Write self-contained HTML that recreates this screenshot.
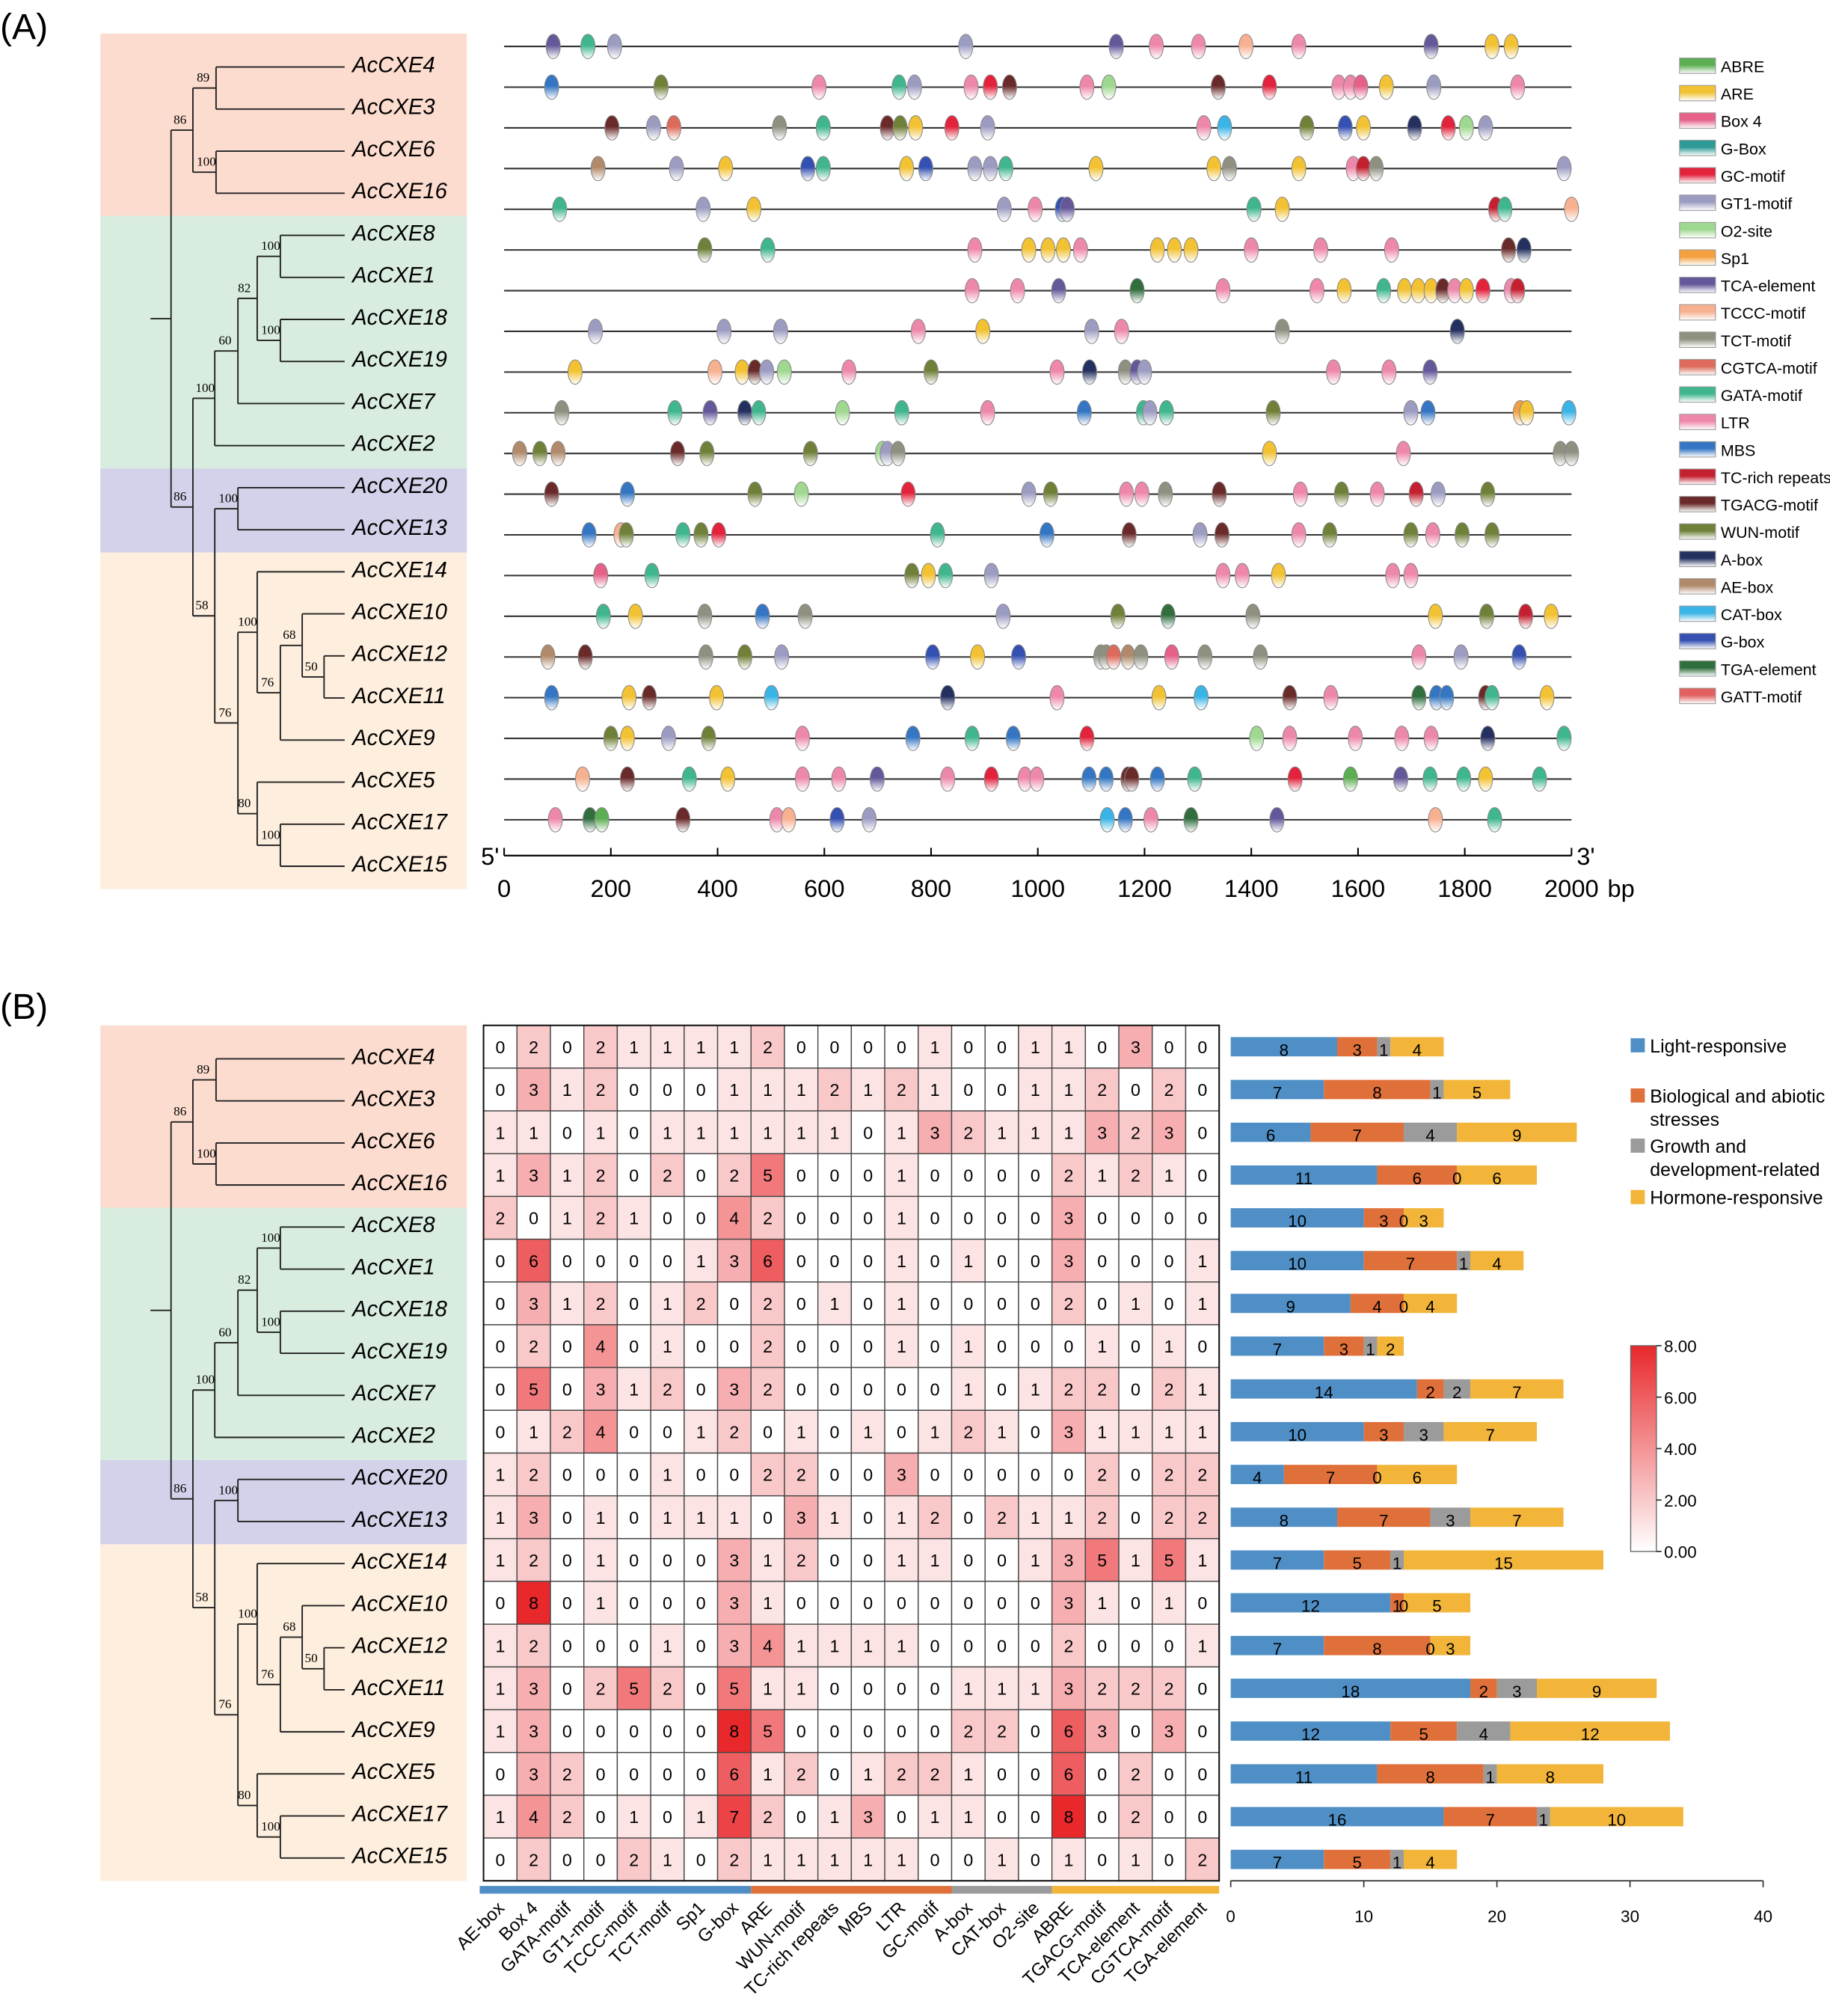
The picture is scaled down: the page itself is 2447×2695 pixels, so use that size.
<!DOCTYPE html>
<html><head><meta charset="utf-8"><style>
html,body{margin:0;padding:0;background:#fff}
svg{display:block;font-family:"Liberation Sans",sans-serif}
</style></head><body>
<svg id="fig" xmlns="http://www.w3.org/2000/svg" width="2447" height="2695" viewBox="0 0 1423 1567">
<defs id="defs"></defs>
<text x="0" y="30" font-size="28">(A)</text>
<text x="0" y="792" font-size="28">(B)</text>
<g id="gA"></g>
<g id="gB"></g>
</svg>
<script>
const genes=["AcCXE4","AcCXE3","AcCXE6","AcCXE16","AcCXE8","AcCXE1","AcCXE18","AcCXE19","AcCXE7","AcCXE2","AcCXE20","AcCXE13","AcCXE14","AcCXE10","AcCXE12","AcCXE11","AcCXE9","AcCXE5","AcCXE17","AcCXE15"];
const motifNames=["ABRE","ARE","Box 4","G-Box","GC-motif","GT1-motif","O2-site","Sp1","TCA-element","TCCC-motif","TCT-motif","CGTCA-motif","GATA-motif","LTR","MBS","TC-rich repeats","TGACG-motif","WUN-motif","A-box","AE-box","CAT-box","G-box","TGA-element","GATT-motif"];
const motifColors=["#5cae52","#f2c233","#e66088","#2e9a96","#e3223c","#9c9cc2","#9fd890","#f5a040","#64579a","#f7b090","#8f9080","#dd6a5a","#3fb68e","#ee88aa","#3476c4","#c42030","#6a2a2a","#6f8038","#243060","#b08a6a","#3ab4e6","#3450b2","#306e3e","#e26060"];
// motif positions (bp) and types per sequence
const motifPos=[
[92,157,207,865,1147,1222,1301,1390,1489,1737,1851,1887],
[89,294,590,740,769,875,911,947,1092,1133,1338,1434,1564,1586,1605,1653,1742,1899],
[202,280,318,516,598,718,742,771,839,906,1311,1350,1504,1576,1610,1706,1769,1803,1839],
[176,323,415,569,598,754,790,882,911,940,1109,1330,1359,1489,1591,1610,1634,1986],
[104,373,468,937,995,1046,1055,1405,1458,1858,1875,2000],
[376,494,882,983,1019,1048,1080,1224,1256,1287,1400,1530,1663,1882,1911],
[877,962,1039,1186,1347,1523,1574,1648,1687,1713,1737,1759,1781,1803,1834,1887,1899],
[171,412,518,776,897,1101,1157,1458,1786],
[133,395,446,470,492,525,646,800,1036,1097,1164,1186,1200,1554,1658,1735],
[108,320,386,451,477,634,745,906,1087,1198,1210,1241,1441,1699,1731,1904,1916,1995],
[29,67,101,325,380,574,709,718,738,1434,1685,1979,2000],
[89,231,470,557,757,983,1024,1166,1195,1239,1340,1492,1569,1636,1709,1750,1843],
[159,219,229,335,369,402,812,1017,1171,1304,1345,1489,1547,1699,1740,1795,1851],
[181,277,764,795,827,913,1347,1383,1451,1665,1699],
[186,246,376,484,564,935,1150,1244,1403,1745,1841,1914,1962],
[82,152,378,451,520,803,887,964,1118,1128,1142,1169,1193,1251,1313,1417,1714,1793,1902],
[89,234,272,398,501,831,1036,1227,1306,1472,1549,1714,1747,1766,1839,1851,1954],
[200,231,308,383,559,766,877,954,1092,1410,1472,1595,1682,1737,1843,1986],
[147,231,347,419,559,627,699,831,913,976,998,1096,1128,1169,1176,1224,1294,1482,1586,1680,1735,1798,1839,1940],
[96,161,183,335,511,533,624,684,1130,1164,1212,1287,1448,1745,1856]];
const motifType=[
[8,12,5,5,8,13,13,9,13,8,1,1],
[14,17,13,12,5,13,4,16,13,6,16,4,13,13,2,1,5,13],
[16,5,11,10,12,16,17,1,4,5,13,20,17,21,1,18,4,6,5],
[19,5,1,21,12,1,21,5,5,12,1,1,10,1,13,15,10,5],
[12,5,1,5,13,21,8,12,1,15,12,9],
[17,12,13,1,1,1,13,1,1,1,13,13,13,16,18],
[13,13,8,22,13,13,1,12,1,1,1,16,13,1,4,13,15],
[5,5,5,13,1,5,13,10,18],
[1,9,1,16,5,6,13,17,13,18,10,8,5,13,13,8],
[10,12,8,18,12,6,12,13,14,12,5,12,17,5,14,7,1,20],
[19,17,19,16,17,17,6,5,10,1,13,10,10],
[16,14,17,6,4,5,17,13,13,10,16,13,17,13,15,5,17],
[14,9,17,12,17,4,12,14,16,5,16,13,17,17,13,17,17],
[2,12,17,1,12,5,13,13,1,13,13],
[12,1,10,14,10,5,17,22,10,1,17,15,1],
[19,16,10,17,5,21,1,21,10,10,11,19,10,2,10,10,13,5,21],
[14,1,16,1,20,18,13,1,20,16,13,22,14,14,16,12,1],
[17,1,5,17,13,14,12,14,4,6,13,13,13,13,18,12],
[9,16,12,1,13,13,8,13,4,13,13,14,14,16,16,14,12,4,0,8,12,12,1,12],
[13,22,0,16,13,9,21,5,20,14,13,22,8,9,12]];
const bpTicks=[0,200,400,600,800,1000,1200,1400,1600,1800,2000];
const colNames=["AE-box","Box 4","GATA-motif","GT1-motif","TCCC-motif","TCT-motif","Sp1","G-box","ARE","WUN-motif","TC-rich repeats","MBS","LTR","GC-motif","A-box","CAT-box","O2-site","ABRE","TGACG-motif","TCA-element","CGTCA-motif","TGA-element"];
const heat=[
[0,2,0,2,1,1,1,1,2,0,0,0,0,1,0,0,1,1,0,3,0,0],
[0,3,1,2,0,0,0,1,1,1,2,1,2,1,0,0,1,1,2,0,2,0],
[1,1,0,1,0,1,1,1,1,1,1,0,1,3,2,1,1,1,3,2,3,0],
[1,3,1,2,0,2,0,2,5,0,0,0,1,0,0,0,0,2,1,2,1,0],
[2,0,1,2,1,0,0,4,2,0,0,0,1,0,0,0,0,3,0,0,0,0],
[0,6,0,0,0,0,1,3,6,0,0,0,1,0,1,0,0,3,0,0,0,1],
[0,3,1,2,0,1,2,0,2,0,1,0,1,0,0,0,0,2,0,1,0,1],
[0,2,0,4,0,1,0,0,2,0,0,0,1,0,1,0,0,0,1,0,1,0],
[0,5,0,3,1,2,0,3,2,0,0,0,0,0,1,0,1,2,2,0,2,1],
[0,1,2,4,0,0,1,2,0,1,0,1,0,1,2,1,0,3,1,1,1,1],
[1,2,0,0,0,1,0,0,2,2,0,0,3,0,0,0,0,0,2,0,2,2],
[1,3,0,1,0,1,1,1,0,3,1,0,1,2,0,2,1,1,2,0,2,2],
[1,2,0,1,0,0,0,3,1,2,0,0,1,1,0,0,1,3,5,1,5,1],
[0,8,0,1,0,0,0,3,1,0,0,0,0,0,0,0,0,3,1,0,1,0],
[1,2,0,0,0,1,0,3,4,1,1,1,1,0,0,0,0,2,0,0,0,1],
[1,3,0,2,5,2,0,5,1,1,0,0,0,0,1,1,1,3,2,2,2,0],
[1,3,0,0,0,0,0,8,5,0,0,0,0,0,2,2,0,6,3,0,3,0],
[0,3,2,0,0,0,0,6,1,2,0,1,2,2,1,0,0,6,0,2,0,0],
[1,4,2,0,1,0,1,7,2,0,1,3,0,1,1,0,0,8,0,2,0,0],
[0,2,0,0,2,1,0,2,1,1,1,1,1,0,0,1,0,1,0,1,0,2]];
const groupNames=["Light-responsive","Biological and abiotic stresses","Growth and development-related","Hormone-responsive"];
const groupSizes=[8,6,3,5];
const lightVals=[8,7,6,11,10,10,9,7,14,10,4,8,7,12,7,18,12,11,16,7];
const stressVals=[3,8,7,6,3,7,4,3,2,3,7,7,5,1,8,2,5,8,7,5];
const growthVals=[1,1,4,0,0,1,0,1,2,3,0,3,1,0,0,3,4,1,1,1];
const hormoneVals=[4,5,9,6,3,4,4,2,7,7,6,7,15,5,3,9,12,8,10,4];
const barTicks=[0,10,20,30,40];
const scaleTicks=[0,2,4,6,8];

const NS="http://www.w3.org/2000/svg";
function mk(tag,attrs,parent,txt){const e=document.createElementNS(NS,tag);for(const k in attrs)e.setAttribute(k,attrs[k]);if(txt!==undefined)e.textContent=txt;parent.appendChild(e);return e;}
const defs=document.getElementById('defs');
motifColors.forEach((c,i)=>{const g=mk('linearGradient',{id:'mg'+i,x1:0,y1:0,x2:0,y2:1},defs);mk('stop',{offset:'0',['stop-color']:c},g);mk('stop',{offset:'0.45',['stop-color']:c},g);mk('stop',{offset:'1',['stop-color']:'#ffffff'},g);});
{const g=mk('linearGradient',{id:'hg',x1:0,y1:1,x2:0,y2:0},defs);mk('stop',{offset:'0','stop-color':'#ffffff'},g);mk('stop',{offset:'1','stop-color':'#e8282b'},g);}

// ---------- tree ----------
const tree={x:117,c:[{x:133,c:[{x:150,b:'86',c:[{x:168,b:'89',c:[0,1]},{x:168,b:'100',c:[2,3]}]},
 {x:150,b:'86',c:[{x:167,b:'100',c:[{x:185,b:'60',c:[{x:200,b:'82',c:[{x:218,b:'100',c:[4,5]},{x:218,b:'100',c:[6,7]}]},8]},9]},
  {x:167,b:'58',c:[{x:185,b:'100',c:[10,11]},{x:185,b:'76',c:[{x:200,b:'100',c:[12,{x:218,b:'76',c:[{x:235,b:'68',c:[13,{x:252,b:'50',c:[14,15]}]},16]}]},{x:200,b:'80',c:[17,{x:218,b:'100',c:[18,19]}]}]}]}]}]}]};
function drawTree(g,y0,step){
  const bands=[[0,4,'#fcdccf'],[4,10,'#d8ede0'],[10,12,'#d3d2ea'],[12,20,'#fdeedd']];
  bands.forEach((b,i)=>{const top=b[0]===0?y0-26:y0+b[0]*step-15;const bot=y0+b[1]*step-15;
    const r=mk('rect',{x:78,y:top,width:285,height:bot-top,fill:b[2]},g);
    
    });
  function ly(i){return y0+i*step;}
  function rec(n){
    if(typeof n==='number')return {y:ly(n),x:268};
    const ch=n.c.map(rec);const ys=ch.map(c=>c.y);const y=(Math.min(...ys)+Math.max(...ys))/2;
    if(n.x>117){mk('line',{x1:n.x,y1:Math.min(...ys),x2:n.x,y2:Math.max(...ys),stroke:'#222','stroke-width':1.1},g);}
    else{mk('line',{x1:n.x,y1:y,x2:n.c[0].x,y2:y,stroke:'#222','stroke-width':1.1},g);}
    if(n.x>117)ch.forEach(c=>mk('line',{x1:n.x,y1:c.y,x2:c.x,y2:c.y,stroke:'#222','stroke-width':1.1},g));
    if(n.b){const t=mk('text',{x:n.x-15,y:y-5,'font-size':10,'font-family':'Liberation Serif, serif'},g,n.b);
      
      }
    return {y:y,x:n.x};
  }
  rec(tree);
  genes.forEach((nm,i)=>{const t=mk('text',{x:274,y:ly(i)+4,'font-size':17,'font-style':'italic'},g,nm);
    
    });
}
const gA=document.getElementById('gA'),gB=document.getElementById('gB');
drawTree(gA,52,32.7);
drawTree(gB,823,32.7);

// ---------- panel A motifs ----------
const ax0=392,ax1=1222;function xbp(v){return ax0+(ax1-ax0)*v/2000;}
const lineY0=36,lineStep=31.64;
for(let r=0;r<20;r++){
  const y=lineY0+r*lineStep;
  const l=mk('line',{x1:ax0,y1:y,x2:ax1,y2:y,stroke:'#333','stroke-width':1.2},gA);
  
  
  motifPos[r].forEach((p,k)=>{const t=motifType[r][k];
    const e=mk('ellipse',{cx:xbp(p),cy:y,rx:5.5,ry:9.5,fill:'url(#mg'+t+')',stroke:'#888','stroke-width':0.6},gA);
    
    });
}
const axY=665;
mk('line',{x1:ax0,y1:axY,x2:ax1,y2:axY,stroke:'#000','stroke-width':1.3},gA);
bpTicks.forEach(v=>{mk('line',{x1:xbp(v),y1:axY,x2:xbp(v),y2:axY-6,stroke:'#000','stroke-width':1.2},gA);
  const t=mk('text',{x:xbp(v),y:697,'font-size':19,'text-anchor':'middle'},gA,String(v));
  
  });
mk('text',{x:1250,y:697,'font-size':19},gA,'bp');
mk('text',{x:374,y:672,'font-size':19},gA,"5'");
mk('text',{x:1226,y:672,'font-size':19},gA,"3'");
motifNames.forEach((n,i)=>{const y=45+i*21.3;
  const r=mk('rect',{x:1306,y:y,width:28,height:12,fill:'url(#mg'+i+')',stroke:'#999','stroke-width':0.6},gA);
  
  
  const t=mk('text',{x:1338,y:y+11,'font-size':12.5},gA,n);
  
  });

// ---------- panel B heatmap ----------
const hx0=376,cw=26,hy0=797,ch=33.25;
function heatColor(v){const f=v/8;return 'rgb('+Math.round(255-23*f)+','+Math.round(255-215*f)+','+Math.round(255-212*f)+')';}
heat.forEach((row,r)=>row.forEach((v,c)=>{
  const x=hx0+c*cw,y=hy0+r*ch;
  const rc=mk('rect',{x:x,y:y,width:cw,height:ch,fill:heatColor(v),stroke:'#444','stroke-width':0.8},gB);
  
  
  mk('text',{x:x+cw/2,y:y+ch/2+5,'font-size':13.5,'text-anchor':'middle'},gB,String(v));
}));
mk('rect',{x:hx0,y:hy0,width:cw*22,height:ch*20,fill:'none',stroke:'#111','stroke-width':1.2},gB);
const grpCols=['#4f8fc6','#e0703a','#9b9b9b','#f2b53a'];
let ci=0;groupSizes.forEach((n,i)=>{const r=mk('rect',{x:hx0+ci*cw-(i==0?3:0),y:1466,width:n*cw+(i==0?3:0),height:6,fill:grpCols[i]},gB);
  
  ci+=n;});
colNames.forEach((n,c)=>{const x=hx0+c*cw+cw/2+4,y=1484;
  const t=mk('text',{x:x,y:y,'font-size':14,'text-anchor':'end',transform:'rotate(-45 '+x+' '+y+')'},gB,n);
  
  });

// color scale
const cs=mk('rect',{x:1268,y:1046,width:20,height:160,fill:'url(#hg)',stroke:'#666','stroke-width':0.8},gB);


scaleTicks.forEach(v=>{const y=1206-160*v/8;mk('line',{x1:1288,y1:y,x2:1292,y2:y,stroke:'#333'},gB);
  mk('text',{x:1294,y:y+5,'font-size':13},gB,v.toFixed(2));});

// stacked bars
const bx0=957,bx1=1371;function xb(v){return bx0+(bx1-bx0)*v/40;}
const series=[lightVals,stressVals,growthVals,hormoneVals];
const barLabels=[];
for(let r=0;r<20;r++){
  const yc=hy0+r*ch+ch/2;let acc=0;
  series.forEach((s,k)=>{const v=s[r];
    const rc=mk('rect',{x:xb(acc),y:yc-7.5,width:xb(acc+v)-xb(acc),height:15,fill:grpCols[k]},gB);
    
    
    barLabels.push([(xb(acc)+xb(acc+v))/2,yc+7,String(v)]);
    acc+=v;});
}
barLabels.forEach(b=>mk('text',{x:b[0],y:b[1],'font-size':13,'text-anchor':'middle'},gB,b[2]));
mk('line',{x1:bx0,y1:1462,x2:bx1,y2:1462,stroke:'#333','stroke-width':1},gB);
barTicks.forEach(v=>{mk('line',{x1:xb(v),y1:1462,x2:xb(v),y2:1467,stroke:'#333'},gB);
  const t=mk('text',{x:xb(v),y:1494,'font-size':13,'text-anchor':'middle'},gB,String(v));
  
  });
// legend
const legY=[813,852,891,931];
const legLines=[["Light-responsive"],["Biological and abiotic","stresses"],["Growth and","development-related"],["Hormone-responsive"]];
legLines.forEach((ls,i)=>{const r=mk('rect',{x:1268,y:legY[i]-6,width:11,height:11,fill:grpCols[i]},gB);
  
  
  ls.forEach((s,j)=>mk('text',{x:1283,y:legY[i]+5+j*18,'font-size':14.5},gB,s));});
</script>
</body></html>
